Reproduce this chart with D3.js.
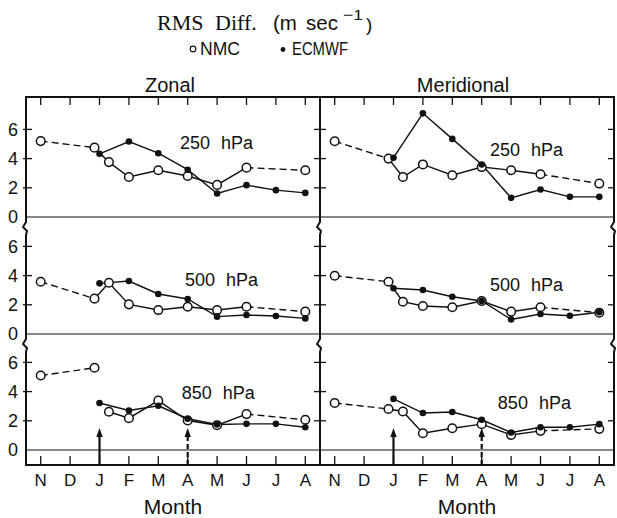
<!DOCTYPE html>
<html>
<head>
<meta charset="utf-8">
<script src="https://cdn.jsdelivr.net/npm/d3@7"></script>
<style>
body { margin: 0; background: #fff; }
text { font-family: "Liberation Sans", Arial, sans-serif; fill: #111; }
</style>
</head>
<body>
<div id="chart"></div>
<script>
"use strict";

// month axis, Nov .. Aug
var months = ["N", "D", "J", "F", "M", "A", "M", "J", "J", "A"];
var yTicks = [0, 2, 4, 6];
var components = ["Zonal", "Meridional"];
var levels = ["250 hPa", "500 hPa", "850 hPa"];

// month positions (0 = Nov) of the points of each series
var nmcX = [0, 1.83, 2.32, 3, 4, 5, 6, 7, 9];
var ecmwfX = [2, 3, 4, 5, 6, 7, 8, 9];

// RMS differences (m/s)
var zonal250Nmc = [5.2, 4.75, 3.76, 2.74, 3.2, 2.81, 2.2, 3.38, 3.2];
var zonal250Ecmwf = [4.33, 5.17, 4.37, 3.24, 1.61, 2.18, 1.84, 1.65];
var merid250Nmc = [5.19, 4.0, 2.74, 3.6, 2.86, 3.42, 3.2, 2.93, 2.29];
var merid250Ecmwf = [4.06, 7.1, 5.35, 3.6, 1.31, 1.88, 1.38, 1.38];
var zonal500Nmc = [3.58, 2.42, 3.51, 2.03, 1.64, 1.87, 1.64, 1.87, 1.53];
var zonal500Ecmwf = [3.47, 3.63, 2.74, 2.4, 1.19, 1.3, 1.23, 1.07];
var merid500Nmc = [3.99, 3.58, 2.21, 1.92, 1.83, 2.26, 1.53, 1.83, 1.46];
var merid500Ecmwf = [3.13, 3.01, 2.55, 2.26, 1.0, 1.37, 1.25, 1.49];
var zonal850Nmc = [5.1, 5.63, 2.62, 2.18, 3.38, 2.02, 1.7, 2.46, 2.07];
var zonal850Ecmwf = [3.22, 2.71, 3.03, 2.14, 1.75, 1.79, 1.79, 1.56];
var merid850Nmc = [3.22, 2.81, 2.64, 1.15, 1.49, 1.77, 1.03, 1.31, 1.45];
var merid850Ecmwf = [3.5, 2.53, 2.6, 2.07, 1.2, 1.56, 1.56, 1.77];

// first index of the solid NMC run (zonal 850 has a gap after Dec)
var nmcSolidFrom = [[1, 1], [1, 1], [2, 1]];
// level label anchor in data units [month, value]
var labelAt = [
    [[4.74, 5.07], [5.28, 4.59]],
    [[4.91, 3.7], [5.28, 3.36]],
    [[4.8, 3.97], [5.55, 3.22]]
];
// arrows under the bottom panels: solid at Jan, dashed at Apr
var arrowMonths = [2, 5];
var arrowDashed = [false, true];

var nmcData = [[zonal250Nmc, merid250Nmc], [zonal500Nmc, merid500Nmc], [zonal850Nmc, merid850Nmc]];
var ecmwfData = [[zonal250Ecmwf, merid250Ecmwf], [zonal500Ecmwf, merid500Ecmwf], [zonal850Ecmwf, merid850Ecmwf]];

var spec = {
    w: 617, h: 518,
    left: 26, mid: 320, right: 614, top: 97, bottom: 465,
    zero: [217, 334, 450],
    unit: 14.6
};

var svg = d3.select("#chart").append("svg")
    .attr("width", spec.w)
    .attr("height", spec.h);

var xScales = [spec.left, spec.mid].map(function (x0) {
    return d3.scaleLinear().domain([-0.5, 9.5]).range([x0, x0 + (spec.mid - spec.left)]);
});
var yScales = spec.zero.map(function (z) {
    return d3.scaleLinear().domain([0, 8]).range([z, z - 8 * spec.unit]);
});

// ---- title and legend
var title = svg.append("g");
function piece(txt, x, y, size, len, serif) {
    var t = title.append("text")
        .attr("x", x).attr("y", y)
        .style("font-size", size + "px")
        .style("font-family", serif ? "'Liberation Serif', serif" : null)
        .text(txt);
    if (len) {
        t.attr("textLength", len).attr("lengthAdjust", "spacingAndGlyphs");
    }
}
piece("RMS", 157, 30, 22, 0, true);
piece("Diff.", 215, 30, 22, 0, true);
piece("(m", 273, 30, 20.5, 0);
piece("sec", 306, 30, 20.5, 0);
piece("\u22121", 343, 20, 15, 20);
piece(")", 366, 31, 19, 0);

svg.append("circle").attr("cx", 193).attr("cy", 49).attr("r", 2.8)
    .attr("fill", "#fff").attr("stroke", "#111").attr("stroke-width", 1.2);
piece("NMC", 200, 55, 17.5, 0);
svg.append("circle").attr("cx", 283).attr("cy", 49.5).attr("r", 2.4).attr("fill", "#111");
piece("ECMWF", 292, 55, 17.5, 56);

components.forEach(function (c, i) {
    svg.append("text")
        .attr("x", i === 0 ? 170 : 463).attr("y", 92)
        .attr("text-anchor", "middle")
        .style("font-size", "20px")
        .text(c);
});

// ---- frame
var axes = svg.append("g").attr("fill", "none").attr("stroke", "#111");

function vline(x) {
    var p = "M" + x + "," + spec.top;
    spec.zero.slice(0, 2).forEach(function (z) {
        p += "V" + (z + 5) + "l-3,5l4,4l-1,4";
    });
    return p + "V" + spec.bottom;
}
[spec.left, spec.mid, spec.right].forEach(function (x) {
    axes.append("path").attr("d", vline(x)).attr("stroke-width", 2)
        .attr("stroke-linejoin", "round");
});
axes.append("line").attr("x1", spec.left - 1).attr("x2", spec.right + 1)
    .attr("y1", spec.top).attr("y2", spec.top).attr("stroke-width", 2);
axes.append("line").attr("x1", spec.left - 1).attr("x2", spec.right + 1)
    .attr("y1", spec.bottom).attr("y2", spec.bottom).attr("stroke-width", 2.2);
spec.zero.forEach(function (z) {
    axes.append("line").attr("x1", spec.left).attr("x2", spec.right)
        .attr("y1", z).attr("y2", z).attr("stroke-width", 1.1);
});

// month ticks on top and bottom
xScales.forEach(function (x) {
    months.forEach(function (m, i) {
        axes.append("line").attr("x1", x(i)).attr("x2", x(i))
            .attr("y1", spec.top).attr("y2", spec.top + 8).attr("stroke-width", 1.3);
        axes.append("line").attr("x1", x(i)).attr("x2", x(i))
            .attr("y1", spec.bottom).attr("y2", spec.bottom - 9).attr("stroke-width", 1.3);
        svg.append("text")
            .attr("x", x(i)).attr("y", 486)
            .attr("text-anchor", "middle")
            .style("font-size", "17px")
            .text(m);
    });
    svg.append("text")
        .attr("x", (x.range()[0] + x.range()[1]) / 2).attr("y", 514)
        .attr("text-anchor", "middle")
        .style("font-size", "21px")
        .text("Month");
});

// value ticks and labels
yScales.forEach(function (y) {
    yTicks.forEach(function (t) {
        if (t > 0) {
            axes.append("line").attr("x1", spec.left - 3).attr("x2", spec.left + 6)
                .attr("y1", y(t)).attr("y2", y(t)).attr("stroke-width", 1.3);
            axes.append("line").attr("x1", spec.mid - 6).attr("x2", spec.mid + 6)
                .attr("y1", y(t)).attr("y2", y(t)).attr("stroke-width", 1.3);
            axes.append("line").attr("x1", spec.right - 6).attr("x2", spec.right)
                .attr("y1", y(t)).attr("y2", y(t)).attr("stroke-width", 1.3);
        }
        svg.append("text")
            .attr("x", 13).attr("y", y(t))
            .attr("dy", "0.36em")
            .attr("text-anchor", "middle")
            .style("font-size", "18px")
            .text(t);
    });
});

// arrows
xScales.forEach(function (x) {
    arrowMonths.forEach(function (m, k) {
        var ax = x(m), tip = 428;
        axes.append("line")
            .attr("x1", ax).attr("x2", ax)
            .attr("y1", spec.bottom).attr("y2", tip + 6)
            .attr("stroke-width", 2.2)
            .attr("stroke-dasharray", arrowDashed[k] ? "5,3" : null);
        svg.append("path")
            .attr("d", "M" + ax + "," + tip + "l3.2,9h-6.4z")
            .attr("fill", "#111");
    });
});

// ---- series
var line = d3.line()
    .x(function (d) { return d.x; })
    .y(function (d) { return d.y; });

var plot = svg.append("g");

levels.forEach(function (lev, r) {
    components.forEach(function (comp, c) {
        var x = xScales[c], y = yScales[r];
        var nmc = nmcData[r][c].map(function (v, i) { return { x: x(nmcX[i]), y: y(v) }; });
        var ec = ecmwfData[r][c].map(function (v, i) { return { x: x(ecmwfX[i]), y: y(v) }; });
        var from = nmcSolidFrom[r][c];
        var n = nmc.length;

        plot.append("path").attr("d", line(nmc.slice(0, 2)))
            .attr("fill", "none").attr("stroke", "#111").attr("stroke-width", 1.4)
            .attr("stroke-dasharray", "7,4");
        plot.append("path").attr("d", line(nmc.slice(from, n - 1)))
            .attr("fill", "none").attr("stroke", "#111").attr("stroke-width", 1.4);
        plot.append("path").attr("d", line(nmc.slice(n - 2)))
            .attr("fill", "none").attr("stroke", "#111").attr("stroke-width", 1.4)
            .attr("stroke-dasharray", "7,4");
        plot.append("path").attr("d", line(ec))
            .attr("fill", "none").attr("stroke", "#111").attr("stroke-width", 1.4);

        plot.selectAll(null).data(nmc).enter().append("circle")
            .attr("cx", function (d) { return d.x; })
            .attr("cy", function (d) { return d.y; })
            .attr("r", 4.3)
            .attr("fill", "#fff").attr("stroke", "#111").attr("stroke-width", 1.5);
        plot.selectAll(null).data(ec).enter().append("circle")
            .attr("cx", function (d) { return d.x; })
            .attr("cy", function (d) { return d.y; })
            .attr("r", 3.3)
            .attr("fill", "#111");

        svg.append("text")
            .attr("x", x(labelAt[r][c][0])).attr("y", y(labelAt[r][c][1]))
            .attr("dy", "0.36em")
            .style("font-size", "18px")
            .style("word-spacing", "6px")
            .text(lev);
    });
});
</script>
</body>
</html>
